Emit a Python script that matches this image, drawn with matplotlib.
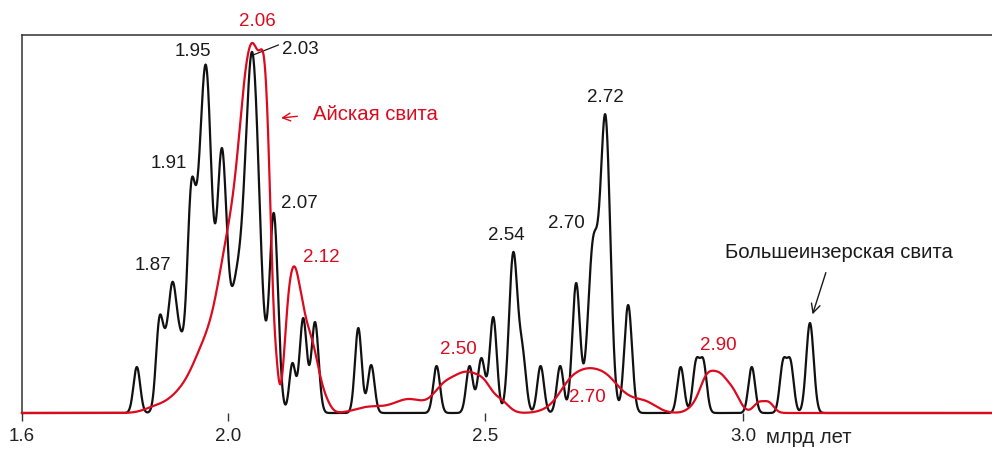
import numpy as np
import matplotlib.pyplot as plt

plt.rcParams['font.family'] = ['Liberation Sans', 'DejaVu Sans']

# Большеинзерская свита (black): peak age (млрд лет), curve height at that age, peak width
black_age = [1.823, 1.866, 1.878, 1.892, 1.905, 1.928, 1.945, 1.960, 1.988, 2.015, 2.047, 2.089,
             2.125, 2.146, 2.169, 2.253, 2.278, 2.405, 2.469, 2.492, 2.515, 2.554, 2.572,
             2.607, 2.645, 2.676, 2.709, 2.733, 2.777, 2.879, 2.909, 2.923, 3.017,
             3.078, 3.092, 3.130]
black_height = [46, 94, 85, 131, 90, 228, 265, 336, 265, 140, 361, 200,
                50, 95, 91, 85, 48, 47, 47, 55, 96, 161, 68,
                47, 47, 130, 176, 298, 108, 46, 54, 54, 46,
                54, 54, 90]
black_width = [0.0065, 0.0065, 0.010, 0.007, 0.012, 0.0075, 0.011, 0.010, 0.0095, 0.012, 0.014, 0.0082,
               0.006, 0.007, 0.007, 0.0065, 0.0065, 0.0065, 0.0065, 0.007, 0.007, 0.0083, 0.007,
               0.0065, 0.0065, 0.0075, 0.010, 0.0095, 0.0075, 0.0065, 0.0065, 0.0065, 0.0065,
               0.0065, 0.0065, 0.0072]

# Айская свита (red): points read along the curve ...
red_pt_age = [1.60, 1.80, 1.845, 1.907, 1.933, 1.959, 1.984, 1.997, 2.010, 2.023, 2.028, 2.035,
              2.040, 2.045, 2.054, 2.063, 2.068, 2.073, 2.078, 2.0835, 2.087, 2.090, 2.093, 2.0965,
              2.104, 2.114, 2.120, 2.127, 2.134, 2.140, 2.153, 2.166, 2.179, 2.192, 2.204,
              2.227, 2.250, 2.295, 2.353, 2.386, 2.405, 2.431, 2.470, 2.495, 2.522, 2.548,
              2.573, 2.586, 2.625, 2.658, 2.700, 2.735, 2.755, 2.787, 2.800, 2.819, 2.839,
              2.878, 2.897, 2.923, 2.949, 2.975, 2.988, 3.004, 3.025, 3.043, 3.060, 3.078,
              3.20, 3.48]
red_pt_height = [0, 0.5, 5, 26, 50, 83, 140, 176, 223, 283, 315, 350,
                 360, 366, 371, 362, 353, 345, 278, 178, 128, 95, 61, 45,
                 26, 100, 132, 145, 140, 125, 93, 66, 40, 13, 6,
                 1, 4, 7, 14, 14, 23, 35, 41, 35, 17, 6,
                 3, 3, 8, 31, 45, 38, 30, 15, 13, 11, 6,
                 1, 6, 33, 41, 31, 16, 5, 9, 12, 6, 0,
                 0, 0]
# ... and the basis of peaks they are fitted with (age, width)
red_age = [1.86, 1.88, 1.90, 1.92, 1.94, 1.96, 1.98, 2.00, 2.02, 2.04, 2.058, 2.073, 2.082, 2.094,
           2.115, 2.127, 2.14, 2.155, 2.17, 2.19,
           2.27, 2.31, 2.35, 2.39, 2.42, 2.45, 2.475, 2.50, 2.53,
           2.63, 2.665, 2.70, 2.735, 2.77, 2.81,
           2.905, 2.93, 2.955, 2.98, 3.00, 3.03, 3.05, 3.07]
red_width = [0.022] * 8 + [0.016, 0.016, 0.012, 0.0095, 0.007, 0.005,
                           0.008, 0.009, 0.010, 0.012, 0.012, 0.010,
                           0.025, 0.025, 0.025, 0.025, 0.02, 0.018, 0.018, 0.015, 0.015,
                           0.022, 0.022, 0.022, 0.022, 0.022, 0.022,
                           0.014, 0.014, 0.014, 0.014, 0.01, 0.01, 0.01, 0.01]

# peak labels: (text, age, height)
black_labels = [("1.87", 1.854, 148), ("1.91", 1.885, 250), ("1.95", 1.932, 361),
                ("2.03", 2.140, 363), ("2.07", 2.138, 209), ("2.54", 2.541, 178),
                ("2.70", 2.658, 189), ("2.72", 2.732, 315)]
red_labels = [("2.06", 2.058, 392), ("2.12", 2.181, 156), ("2.50", 2.447, 64),
              ("2.70", 2.698, 15), ("2.90", 2.953, 68)]

xticks = [1.6, 2.0, 2.5, 3.0]
RED = '#dc0a1e'
INK = '#1a1a1a'


def gauss(x, age, width):
    return np.exp(-(np.asarray(x)[:, None] - np.asarray(age)[None, :]) ** 2
                  / (2 * np.asarray(width)[None, :] ** 2))


def density(age, height, width, x):
    # amplitudes chosen so the summed curve passes through the read peak heights
    amp = np.linalg.solve(gauss(age, age, width), np.asarray(height, float))
    return gauss(x, age, width) @ amp


def fitted(pt_age, pt_height, age, width, x, n_iter=100000):
    # non-negative least squares (multiplicative updates) through the read points
    g = gauss(pt_age, age, width)
    gty = g.T @ np.asarray(pt_height, float)
    gtg = g.T @ g
    amp = np.full(len(age), 10.0)
    for _ in range(n_iter):
        amp *= gty / (gtg @ amp + 1e-12)
    return gauss(x, age, width) @ amp


x = np.linspace(1.6, 3.49, 4000)
yb = density(black_age, black_height, black_width, x)
yr = fitted(red_pt_age, red_pt_height, red_age, red_width, x)

fig = plt.figure(figsize=(9.92, 4.51), dpi=100)
ax = fig.add_axes([22 / 992, 38 / 451, 970 / 992, 378.5 / 451])

ax.plot(x, yb, color='#111111', lw=1.6, clip_on=False, zorder=3)
ax.plot(x, yr, color=RED, lw=1.6, clip_on=False, zorder=4)

ax.set_xlim(1.6, 1.6 + 970 / 515)
ax.set_ylim(0, 378.5)

for s in ['right', 'bottom']:
    ax.spines[s].set_visible(False)
for s in ['top', 'left']:
    ax.spines[s].set_color('#333333')
    ax.spines[s].set_linewidth(1.1)

ax.set_yticks([])
ax.set_xticks(xticks)
ax.set_xticklabels([f"{t:.1f}" for t in xticks], fontsize=13.5, color='#222222')
ax.tick_params(axis='x', direction='out', length=6, width=1, color='#333333', pad=5)
ax.text(3.0447, -24.5, "млрд лет", fontsize=14.6, color='#222222', ha='left', va='center',
        clip_on=False)

for t, a, h in black_labels:
    ax.text(a, h, t, fontsize=13.5, color=INK, ha='center', va='center', clip_on=False)
for t, a, h in red_labels:
    ax.text(a, h, t, fontsize=13.5, color=RED, ha='center', va='center', clip_on=False)

# leader line for 2.03
ax.plot([2.0487, 2.0977], [358, 368], color=INK, lw=0.9)

ax.text(2.165, 298, "Айская свита", fontsize=14.6, color=RED, ha='left', va='center')
ax.annotate("", xy=(2.0977, 294.7), xytext=(2.140, 297),
            arrowprops=dict(arrowstyle='->', color=RED, lw=1, mutation_scale=14))

ax.text(3.186, 160, "Большеинзерская свита", fontsize=14.6, color=INK,
        ha='center', va='center')
ax.annotate("", xy=(3.1334, 96), xytext=(3.1625, 143),
            arrowprops=dict(arrowstyle='->', color=INK, lw=1, mutation_scale=16))

fig.savefig("out.png", dpi=100)
